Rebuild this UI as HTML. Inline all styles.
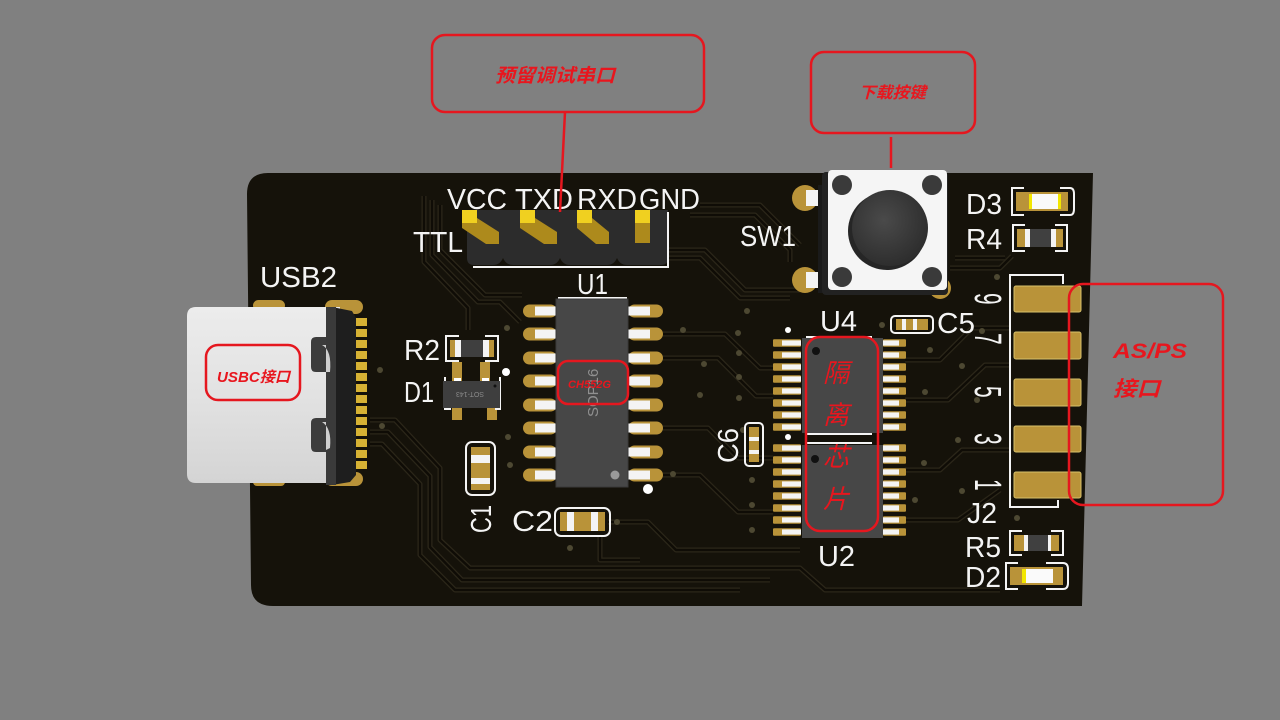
<!DOCTYPE html>
<html><head><meta charset="utf-8"><style>
html,body{margin:0;padding:0;background:#808080;}
svg{display:block}
.s{fill:#f4f4f4;font-family:"Liberation Sans",sans-serif;}
.r{fill:#e8161e;font-family:"Liberation Sans","Noto Sans CJK SC",sans-serif;font-weight:bold;font-style:italic;}
.rc{fill:#e8161e;font-family:"Noto Sans CJK SC",sans-serif;font-style:italic;}
.bx{fill:none;stroke:#e5171f;stroke-width:2.5;}
.tr{fill:none;stroke:#2b2619;stroke-width:5;stroke-linejoin:round;}
.ti{fill:none;stroke:#0f0c06;stroke-width:2.4;stroke-linejoin:round;}
.sk{fill:none;stroke:#f4f4f4;stroke-width:2;}
</style></head><body>
<svg width="1280" height="720" viewBox="0 0 1280 720" xmlns="http://www.w3.org/2000/svg">
<defs>
  <g id="p1L"><rect x="0" y="-6.5" width="34" height="13" rx="6.5" fill="#b99339"/><rect x="12" y="-4.5" width="22" height="9" fill="#f4f4f4"/></g>
  <g id="p1R"><rect x="0" y="-6.5" width="35" height="13" rx="6.5" fill="#b99339"/><rect x="0" y="-4.5" width="22" height="9" fill="#f4f4f4"/></g>
  <g id="p4L"><rect x="0" y="-3.8" width="28" height="7.6" rx="1" fill="#b99339"/><rect x="9" y="-2.6" width="19" height="5.2" fill="#f4f4f4"/></g>
  <g id="p4R"><rect x="0" y="-3.8" width="23" height="7.6" rx="1" fill="#b99339"/><rect x="0" y="-2.6" width="16" height="5.2" fill="#f4f4f4"/></g>
  <linearGradient id="usb" x1="0" y1="0" x2="0" y2="1"><stop offset="0" stop-color="#ececec"/><stop offset="0.5" stop-color="#e2e2e2"/><stop offset="1" stop-color="#d4d4d4"/></linearGradient>
  <radialGradient id="btn" cx="0.42" cy="0.4" r="0.6"><stop offset="0" stop-color="#4a4a4a"/><stop offset="1" stop-color="#2e2e2e"/></radialGradient>
</defs>
<rect width="1280" height="720" fill="#808080"/>

<!-- board -->
<path d="M268 173 L1093 173 L1082 606 L273 606 Q251 606 251 585 L247 194 Q247 173 268 173 Z" fill="#15120a"/>

<!-- traces -->
<g>
<path class="tr" d="M440 205 L440 250 L485 295 L522 295"/><path class="ti" d="M440 205 L440 250 L485 295 L522 295"/>
<path class="tr" d="M432 200 L432 255 L478 302 L500 302 L520 322"/><path class="ti" d="M432 200 L432 255 L478 302 L500 302 L520 322"/>
<path class="tr" d="M424 196 L424 262 L468 308 L468 330"/><path class="ti" d="M424 196 L424 262 L468 308 L468 330"/>
<path class="tr" d="M668 250 L705 250 L745 290 L800 290"/><path class="ti" d="M668 250 L705 250 L745 290 L800 290"/>
<path class="tr" d="M668 258 L700 258 L740 298 L790 298"/><path class="ti" d="M668 258 L700 258 L740 298 L790 298"/>
<path class="tr" d="M370 420 L395 420 L440 468 L440 540 L470 568 L800 568 L825 590 L1000 590"/><path class="ti" d="M370 420 L395 420 L440 468 L440 540 L470 568 L800 568 L825 590 L1000 590"/>
<path class="tr" d="M370 432 L388 432 L430 476 L430 547 L462 580 L770 580"/><path class="ti" d="M370 432 L388 432 L430 476 L430 547 L462 580 L770 580"/>
<path class="tr" d="M370 444 L382 444 L420 484 L420 555 L455 590 L740 590"/><path class="ti" d="M370 444 L382 444 L420 484 L420 555 L455 590 L740 590"/>
<path class="tr" d="M608 522 L648 522 L676 550 L800 550"/><path class="ti" d="M608 522 L648 522 L676 550 L800 550"/>
<path class="tr" d="M663 475 L700 475 L738 512 L773 512"/><path class="ti" d="M663 475 L700 475 L738 512 L773 512"/>
<path class="tr" d="M663 428 L708 428 L738 458 L773 458"/><path class="ti" d="M663 428 L708 428 L738 458 L773 458"/>
<path class="tr" d="M663 358 L718 358 L756 396 L773 396"/><path class="ti" d="M663 358 L718 358 L756 396 L773 396"/>
<path class="tr" d="M663 334 L725 334 L760 368 L773 368"/><path class="ti" d="M663 334 L725 334 L760 368 L773 368"/>
<path class="tr" d="M905 360 L940 360 L972 328 L1010 328"/><path class="ti" d="M905 360 L940 360 L972 328 L1010 328"/>
<path class="tr" d="M905 400 L948 400 L985 365 L1010 365"/><path class="ti" d="M905 400 L948 400 L985 365 L1010 365"/>
<path class="tr" d="M905 470 L940 470 L962 450 L1010 450"/><path class="ti" d="M905 470 L940 470 L962 450 L1010 450"/>
<path class="tr" d="M905 520 L958 520 L1000 490"/><path class="ti" d="M905 520 L958 520 L1000 490"/>
<path class="tr" d="M700 205 L760 205 L800 245"/><path class="ti" d="M700 205 L760 205 L800 245"/>
<path class="tr" d="M690 215 L755 215 L790 250 L790 262"/><path class="ti" d="M690 215 L755 215 L790 250 L790 262"/>
<path class="tr" d="M950 268 L1000 268 L1012 256"/><path class="ti" d="M950 268 L1000 268 L1012 256"/>
<path class="tr" d="M955 258 L1005 258"/><path class="ti" d="M955 258 L1005 258"/>
<path class="tr" d="M600 535 L600 560 L640 560"/><path class="ti" d="M600 535 L600 560 L640 560"/>
</g>

<!-- vias -->
<g fill="#4d4832">
<circle cx="380" cy="370" r="3"/><circle cx="507" cy="328" r="3"/><circle cx="683" cy="330" r="3"/>
<circle cx="747" cy="311" r="3"/><circle cx="738" cy="333" r="3"/><circle cx="739" cy="353" r="3"/>
<circle cx="739" cy="377" r="3"/><circle cx="739" cy="398" r="3"/><circle cx="743" cy="430" r="3"/>
<circle cx="752" cy="480" r="3"/><circle cx="752" cy="505" r="3"/><circle cx="752" cy="530" r="3"/>
<circle cx="382" cy="426" r="3"/><circle cx="508" cy="437" r="3"/><circle cx="510" cy="465" r="3"/>
<circle cx="617" cy="522" r="3"/><circle cx="570" cy="548" r="3"/><circle cx="673" cy="474" r="3"/>
<circle cx="700" cy="395" r="3"/><circle cx="704" cy="364" r="3"/><circle cx="930" cy="350" r="3"/>
<circle cx="925" cy="392" r="3"/><circle cx="962" cy="366" r="3"/><circle cx="958" cy="440" r="3"/>
<circle cx="924" cy="463" r="3"/><circle cx="962" cy="491" r="3"/><circle cx="915" cy="500" r="3"/>
<circle cx="1017" cy="518" r="3"/><circle cx="997" cy="277" r="3"/><circle cx="882" cy="325" r="3"/>
<circle cx="982" cy="331" r="3"/><circle cx="977" cy="400" r="3"/>
</g>

<!-- header -->
<path d="M467 210 L668 210 L668 258 Q668 265 661 265 L627 265 Q620 265 617 258 Q614 265 607 265 L570 265 Q563 265 560 258 Q557 265 550 265 L513 265 Q506 265 503 258 Q500 265 493 265 L474 265 Q467 265 467 258 Z" fill="#2c2c2c"/>
<path class="sk" d="M473 267 L668 267 L668 212"/>
<g fill="#ad8a1c">
<polygon points="462,218 477,218 499,232 499,244 486,244 462,228"/>
<polygon points="520,218 535,218 557,232 557,244 544,244 520,228"/>
<polygon points="577,218 592,218 609,232 609,244 596,244 577,228"/>
<rect x="635" y="218" width="15" height="25"/>
</g>
<g fill="#f0d020">
<rect x="462" y="210" width="15" height="13"/><rect x="520" y="210" width="15" height="13"/>
<rect x="577" y="210" width="15" height="13"/><rect x="635" y="210" width="15" height="13"/>
</g>

<!-- USB-C connector -->
<g>
<rect x="253" y="300" width="32" height="11" rx="5.5" fill="#b99339"/>
<rect x="325" y="300" width="38" height="14" rx="7" fill="#b99339"/>
<rect x="253" y="478" width="32" height="8" rx="4" fill="#b99339"/>
<rect x="325" y="472" width="38" height="14" rx="7" fill="#b99339"/>
<g fill="#d7b234">
<rect x="355" y="318" width="12" height="8"/><rect x="355" y="329" width="12" height="8"/><rect x="355" y="340" width="12" height="8"/>
<rect x="355" y="351" width="12" height="8"/><rect x="355" y="362" width="12" height="8"/><rect x="355" y="373" width="12" height="8"/>
<rect x="355" y="384" width="12" height="8"/><rect x="355" y="395" width="12" height="8"/><rect x="355" y="406" width="12" height="8"/>
<rect x="355" y="417" width="12" height="8"/><rect x="355" y="428" width="12" height="8"/><rect x="355" y="439" width="12" height="8"/>
<rect x="355" y="450" width="12" height="8"/><rect x="355" y="461" width="12" height="8"/>
</g>
<path d="M196 307 L340 307 L340 483 L196 483 Q187 483 187 474 L187 316 Q187 307 196 307 Z" fill="url(#usb)"/>
<path d="M332 307 L352 311 L356 318 L356 475 L350 482 L332 485 Z" fill="#1e1e1e"/>
<rect x="326" y="307" width="10" height="178" fill="#3a3a3a"/>
<path d="M311 342 Q311 337 316 337 L326 337 L326 372 L316 372 Q311 372 311 367 Z" fill="#3c3c3c"/>
<path d="M311 423 Q311 418 316 418 L326 418 L326 452 L316 452 Q311 452 311 447 Z" fill="#3c3c3c"/>
<path d="M322 345 Q332 350 330 372 L326 372 L326 345 Z" fill="#cfcfcf"/>
<path d="M322 422 Q332 428 330 448 L326 450 L326 422 Z" fill="#cfcfcf"/>
</g>

<!-- U1 -->
<g>
<use href="#p1L" x="523" y="311"/><use href="#p1L" x="523" y="334"/><use href="#p1L" x="523" y="358"/><use href="#p1L" x="523" y="381"/>
<use href="#p1L" x="523" y="405"/><use href="#p1L" x="523" y="428"/><use href="#p1L" x="523" y="452"/><use href="#p1L" x="523" y="475"/>
<use href="#p1R" x="628" y="311"/><use href="#p1R" x="628" y="334"/><use href="#p1R" x="628" y="358"/><use href="#p1R" x="628" y="381"/>
<use href="#p1R" x="628" y="405"/><use href="#p1R" x="628" y="428"/><use href="#p1R" x="628" y="452"/><use href="#p1R" x="628" y="475"/>
<line x1="558" y1="298" x2="627" y2="298" stroke="#f4f4f4" stroke-width="2"/>
<rect x="556" y="299" width="72" height="188" fill="#474747" stroke="#3a3a3a" stroke-width="1"/>
<circle cx="615" cy="475" r="4.5" fill="#9a9a9a"/>
<text x="0" y="0" transform="translate(598,417) rotate(-90)" font-family="Liberation Sans, sans-serif" font-size="15" fill="#909090">SOP16</text>
<circle cx="648" cy="489" r="5" fill="#fff"/>
</g>

<!-- R2 -->
<g>
<path class="sk" d="M459 336 L446 336 L446 361 L459 361 M485 336 L498 336 L498 361 L485 361"/>
<rect x="450" y="340" width="44" height="17" fill="#b99339"/>
<rect x="455" y="340" width="34" height="17" fill="#f4f4f4"/>
<rect x="461" y="340" width="22" height="17" fill="#3f3f3f"/>
</g>
<!-- D1 -->
<g>
<rect x="452" y="362" width="10" height="22" fill="#b99339"/><rect x="480" y="362" width="10" height="22" fill="#b99339"/>
<rect x="452" y="405" width="10" height="15" fill="#b99339"/><rect x="487" y="405" width="10" height="15" fill="#b99339"/>
<rect x="454" y="378" width="7" height="5" fill="#fff"/><rect x="482" y="378" width="7" height="5" fill="#fff"/>
<path class="sk" d="M445 377 L445 409 L451 409 M500 377 L500 409 L495 409"/>
<rect x="443" y="381" width="57" height="27" fill="#3e3e3e"/>
<circle cx="495" cy="386" r="1.5" fill="#111"/>
<text x="0" y="0" transform="translate(484,392) rotate(180)" font-family="Liberation Sans, sans-serif" font-size="7" fill="#8a8a8a">SOT-143</text>
<circle cx="506" cy="372" r="4" fill="#fff"/>
</g>
<!-- C1 -->
<g>
<rect x="466" y="442" width="29" height="53" rx="6" fill="none" stroke="#f4f4f4" stroke-width="2"/>
<rect x="471" y="447" width="19" height="43" fill="#b99339"/>
<rect x="471" y="455" width="19" height="8" fill="#f4f4f4"/>
<rect x="471" y="478" width="19" height="6" fill="#f4f4f4"/>
</g>
<!-- C2 -->
<g>
<rect x="555" y="508" width="55" height="28" rx="6" fill="none" stroke="#f4f4f4" stroke-width="2"/>
<rect x="560" y="512" width="45" height="19" fill="#b99339"/>
<rect x="567" y="512" width="7" height="19" fill="#f4f4f4"/>
<rect x="591" y="512" width="7" height="19" fill="#f4f4f4"/>
</g>

<!-- SW1 -->
<g>
<circle cx="805" cy="198" r="13" fill="#b99339"/><circle cx="805" cy="280" r="13" fill="#b99339"/>
<circle cx="940" cy="288" r="11" fill="#b99339"/>
<rect x="806" y="190" width="14" height="16" fill="#f4f4f4"/><rect x="806" y="272" width="14" height="16" fill="#f4f4f4"/>
<rect x="818" y="185" width="14" height="108" fill="#1a1a1a"/>
<rect x="822" y="172" width="126" height="123" rx="4" fill="#222"/>
<rect x="828" y="170" width="119" height="120" rx="4" fill="#f5f5f5"/>
<circle cx="842" cy="185" r="10" fill="#3a3a3a"/><circle cx="932" cy="185" r="10" fill="#3a3a3a"/>
<circle cx="842" cy="277" r="10" fill="#3a3a3a"/><circle cx="932" cy="277" r="10" fill="#3a3a3a"/>
<circle cx="887" cy="231" r="39" fill="#262626"/>
<circle cx="890" cy="228" r="38" fill="url(#btn)"/>
</g>

<!-- D3 R4 -->
<g>
<path class="sk" d="M1024 188 L1012 188 L1012 215 L1024 215 M1060 188 L1070 188 Q1074 188 1074 194 L1074 209 Q1074 215 1070 215 L1060 215"/>
<rect x="1016" y="192" width="52" height="19" fill="#b99339"/>
<rect x="1032" y="194" width="26" height="15" fill="#fafafa"/>
<rect x="1029" y="194" width="3" height="15" fill="#f2e600"/><rect x="1058" y="194" width="3" height="15" fill="#f2e600"/>
<path class="sk" d="M1025 225 L1013 225 L1013 251 L1025 251 M1055 225 L1067 225 L1067 251 L1055 251"/>
<rect x="1017" y="229" width="46" height="18" fill="#b99339"/>
<rect x="1025" y="229" width="31" height="18" fill="#f4f4f4"/>
<rect x="1030" y="229" width="21" height="18" fill="#404040"/>
</g>

<!-- J2 -->
<g>
<path class="sk" d="M1063 284 L1063 275 L1010 275 L1010 507 L1058 507 L1058 500"/>
<g fill="#b99339" stroke="#d6c06a" stroke-width="1">
<rect x="1014" y="286" width="67" height="26" rx="2"/>
<rect x="1014" y="332" width="67" height="27" rx="2"/>
<rect x="1014" y="379" width="67" height="27" rx="2"/>
<rect x="1014" y="426" width="67" height="26" rx="2"/>
<rect x="1014" y="472" width="67" height="26" rx="2"/>
</g>
</g>

<!-- U4 / U2 -->
<g>
<use href="#p4L" x="773" y="343"/><use href="#p4L" x="773" y="355"/><use href="#p4L" x="773" y="367"/><use href="#p4L" x="773" y="379"/>
<use href="#p4L" x="773" y="391"/><use href="#p4L" x="773" y="403"/><use href="#p4L" x="773" y="415"/><use href="#p4L" x="773" y="427"/>
<use href="#p4L" x="773" y="448"/><use href="#p4L" x="773" y="460"/><use href="#p4L" x="773" y="472"/><use href="#p4L" x="773" y="484"/>
<use href="#p4L" x="773" y="496"/><use href="#p4L" x="773" y="508"/><use href="#p4L" x="773" y="520"/><use href="#p4L" x="773" y="532"/>
<use href="#p4R" x="883" y="343"/><use href="#p4R" x="883" y="355"/><use href="#p4R" x="883" y="367"/><use href="#p4R" x="883" y="379"/>
<use href="#p4R" x="883" y="391"/><use href="#p4R" x="883" y="403"/><use href="#p4R" x="883" y="415"/><use href="#p4R" x="883" y="427"/>
<use href="#p4R" x="883" y="448"/><use href="#p4R" x="883" y="460"/><use href="#p4R" x="883" y="472"/><use href="#p4R" x="883" y="484"/>
<use href="#p4R" x="883" y="496"/><use href="#p4R" x="883" y="508"/><use href="#p4R" x="883" y="520"/><use href="#p4R" x="883" y="532"/>
<line x1="806" y1="337" x2="872" y2="337" stroke="#f4f4f4" stroke-width="2"/>
<rect x="802" y="338" width="81" height="95" fill="#474747"/>
<rect x="802" y="445" width="81" height="93" fill="#474747"/>
<line x1="805" y1="434" x2="872" y2="434" stroke="#f4f4f4" stroke-width="2"/>
<line x1="805" y1="443" x2="872" y2="443" stroke="#f4f4f4" stroke-width="2"/>
<circle cx="816" cy="351" r="4" fill="#111"/><circle cx="815" cy="459" r="4" fill="#111"/>
<circle cx="788" cy="330" r="3" fill="#fff"/><circle cx="788" cy="437" r="3" fill="#fff"/>
</g>
<!-- C5 -->
<g>
<rect x="891" y="316" width="42" height="17" rx="4" fill="none" stroke="#f4f4f4" stroke-width="2"/>
<rect x="896" y="319" width="32" height="11" fill="#b99339"/>
<rect x="902" y="319" width="4" height="11" fill="#f4f4f4"/><rect x="913" y="319" width="4" height="11" fill="#f4f4f4"/>
</g>
<!-- C6 -->
<g>
<rect x="745" y="423" width="18" height="43" rx="4" fill="none" stroke="#f4f4f4" stroke-width="2"/>
<rect x="749" y="427" width="10" height="35" fill="#b99339"/>
<rect x="749" y="437" width="10" height="4" fill="#f4f4f4"/><rect x="749" y="450" width="10" height="4" fill="#f4f4f4"/>
</g>
<!-- R5 D2 -->
<g>
<path class="sk" d="M1022 531 L1010 531 L1010 555 L1022 555 M1051 531 L1063 531 L1063 555 L1051 555"/>
<rect x="1014" y="535" width="45" height="16" fill="#b99339"/>
<rect x="1024" y="535" width="27" height="16" fill="#f4f4f4"/>
<rect x="1028" y="535" width="20" height="16" fill="#404040"/>
<path class="sk" d="M1018 563 L1006 563 L1006 589 L1018 589 M1046 563 L1063 563 Q1068 563 1068 569 L1068 583 Q1068 589 1063 589 L1046 589"/>
<rect x="1010" y="567" width="53" height="18" fill="#b99339"/>
<rect x="1026" y="569" width="27" height="14" fill="#fafafa"/>
<rect x="1022" y="569" width="4" height="14" fill="#f2e600"/>
</g>

<!-- silkscreen labels -->
<g class="s" font-size="29">
<text x="260" y="287" textLength="77" lengthAdjust="spacingAndGlyphs">USB2</text>
<text x="413" y="252" textLength="50" lengthAdjust="spacingAndGlyphs">TTL</text>
<text x="447" y="209" textLength="60" lengthAdjust="spacingAndGlyphs">VCC</text>
<text x="515" y="209" textLength="58" lengthAdjust="spacingAndGlyphs">TXD</text>
<text x="577" y="209" textLength="60" lengthAdjust="spacingAndGlyphs">RXD</text>
<text x="639" y="209" textLength="61" lengthAdjust="spacingAndGlyphs">GND</text>
<text x="577" y="294" textLength="31" lengthAdjust="spacingAndGlyphs">U1</text>
<text x="404" y="360" textLength="36" lengthAdjust="spacingAndGlyphs">R2</text>
<text x="404" y="402" textLength="30" lengthAdjust="spacingAndGlyphs">D1</text>
<text x="512" y="531" textLength="41" lengthAdjust="spacingAndGlyphs">C2</text>
<text x="0" y="0" transform="translate(491,533) rotate(-90)" textLength="28" lengthAdjust="spacingAndGlyphs">C1</text>
<text x="740" y="246" textLength="56" lengthAdjust="spacingAndGlyphs">SW1</text>
<text x="966" y="214" textLength="36" lengthAdjust="spacingAndGlyphs">D3</text>
<text x="966" y="249" textLength="36" lengthAdjust="spacingAndGlyphs">R4</text>
<text x="820" y="331" textLength="37" lengthAdjust="spacingAndGlyphs">U4</text>
<text x="937" y="333" textLength="38" lengthAdjust="spacingAndGlyphs">C5</text>
<text x="0" y="0" transform="translate(738,463) rotate(-90)" textLength="35" lengthAdjust="spacingAndGlyphs">C6</text>
<text x="818" y="566" textLength="37" lengthAdjust="spacingAndGlyphs">U2</text>
<text x="967" y="523" textLength="30" lengthAdjust="spacingAndGlyphs">J2</text>
<text x="965" y="557" textLength="36" lengthAdjust="spacingAndGlyphs">R5</text>
<text x="965" y="587" textLength="36" lengthAdjust="spacingAndGlyphs">D2</text>
</g>
<g class="s" font-size="38">
<text transform="translate(975,293) rotate(90) scale(0.55,1)">9</text>
<text transform="translate(975,333) rotate(90) scale(0.55,1)">7</text>
<text transform="translate(975,386) rotate(90) scale(0.55,1)">5</text>
<text transform="translate(975,433) rotate(90) scale(0.55,1)">3</text>
<text transform="translate(975,479) rotate(90) scale(0.55,1)">1</text>
</g>

<!-- red callouts -->
<rect class="bx" x="432" y="35" width="272" height="77" rx="13"/>
<line x1="565" y1="112" x2="560" y2="212" stroke="#e5171f" stroke-width="2.5"/>
<text class="r" x="495" y="82" font-size="19" textLength="120" lengthAdjust="spacingAndGlyphs">预留调试串口</text>

<rect class="bx" x="811" y="52" width="164" height="81" rx="13"/>
<line x1="891" y1="137" x2="891" y2="168" stroke="#e5171f" stroke-width="2.5"/>
<text class="r" x="859" y="98" font-size="16" textLength="67" lengthAdjust="spacingAndGlyphs">下载按键</text>

<rect class="bx" x="1069" y="284" width="154" height="221" rx="14"/>
<text class="r" x="1113" y="358" font-size="21" textLength="74" lengthAdjust="spacingAndGlyphs">AS/PS</text>
<text class="r" x="1113" y="396" font-size="21" textLength="47" lengthAdjust="spacingAndGlyphs">接口</text>

<rect class="bx" x="206" y="345" width="94" height="55" rx="12"/>
<text class="r" x="217" y="382" font-size="15" textLength="73" lengthAdjust="spacingAndGlyphs">USBC接口</text>

<rect class="bx" x="558" y="361" width="70" height="43" rx="10"/>
<text class="r" x="568" y="388" font-size="11" textLength="43" lengthAdjust="spacingAndGlyphs">CH552G</text>

<rect class="bx" x="806" y="337" width="72" height="194" rx="14"/>
<g class="rc" font-size="26" text-anchor="middle">
<text x="836" y="382">隔</text>
<text x="836" y="424">离</text>
<text x="836" y="466">芯</text>
<text x="836" y="508">片</text>
</g>
</svg>
</body></html>
